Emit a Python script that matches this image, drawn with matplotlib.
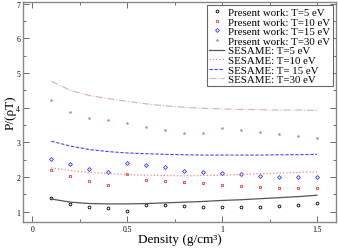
import matplotlib
matplotlib.use("Agg")
import matplotlib.pyplot as plt
from matplotlib.ticker import MultipleLocator

plt.rcParams['font.family'] = ['Liberation Serif', 'DejaVu Serif']

# ── data ──
density = [0.1, 0.2, 0.3, 0.4, 0.5, 0.6, 0.7, 0.8, 0.9, 1.0, 1.1, 1.2, 1.3, 1.4, 1.5]

pw_t5 = [1.40, 1.23, 1.12, 1.09, 1.02, 1.20, 1.18, 1.16, 1.14, 1.13, 1.13, 1.13, 1.16, 1.19, 1.24]
pw_t10 = [2.19, 2.02, 1.88, 1.77, 2.09, 1.92, 1.88, 1.85, 1.83, 1.77, 1.74, 1.72, 1.69, 1.69, 1.69]
pw_t15 = [2.51, 2.36, 2.23, 2.13, 2.39, 2.33, 2.29, 2.17, 2.14, 2.11, 2.07, 2.03, 2.01, 2.00, 1.99]
pw_t30 = [4.21, 3.87, 3.70, 3.65, 3.55, 3.45, 3.36, 3.27, 3.28, 3.40, 3.35, 3.30, 3.24, 3.19, 3.12]

ses_t5 = [1.36, 1.27, 1.23, 1.22, 1.22, 1.23, 1.25, 1.27, 1.29, 1.32, 1.34, 1.37, 1.40, 1.43, 1.47]
ses_t10 = [2.26, 2.18, 2.13, 2.10, 2.07, 2.05, 2.04, 2.03, 2.04, 2.05, 2.07, 2.09, 2.11, 2.13, 2.14]
ses_t15 = [3.03, 2.89, 2.79, 2.73, 2.69, 2.67, 2.65, 2.64, 2.63, 2.63, 2.63, 2.63, 2.64, 2.64, 2.65]
ses_t30 = [4.76, 4.50, 4.35, 4.26, 4.18, 4.11, 4.05, 4.01, 3.98, 3.96, 3.95, 3.94, 3.93, 3.93, 3.92]

# ── figure ──
fig = plt.figure(figsize=(3.38, 2.53), dpi=100)
ax = fig.add_axes([0.068, 0.119, 0.926, 0.869])

ms = 2.0
mew = 0.6
ax.plot(density, pw_t5, 'o', ms=ms, mfc='none', mec='black', mew=mew,
        label='Present work: T=5 eV')
ax.plot(density, pw_t10, 's', ms=ms, mfc='none', mec='#ee3333', mew=mew,
        label='Present work: T=10 eV')
ax.plot(density, pw_t15, 'D', ms=ms, mfc='none', mec='#3333ff', mew=mew,
        label='Present work: T=15 eV')
ax.plot(density, pw_t30, '*', ms=ms, color='#bc8f8f', mew=0.4,
        label='Present work: T=30 eV')

ax.plot(density, ses_t5, '-', color='#555555', lw=0.9, label='SESAME: T=5 eV')
ax.plot(density, ses_t10, ':', color='#ff8080', lw=0.9, label='SESAME: T=10 eV')
ax.plot(density, ses_t15, '--', color='#4444ff', lw=0.8, dashes=(3, 1.5),
        label='SESAME: T= 15 eV')
ax.plot(density, ses_t30, '-.', color='#d4b0b0', lw=0.8, label='SESAME: T=30 eV')

ax.set_xlim(-0.05, 1.6)
ax.set_ylim(0.7, 7.05)
ax.xaxis.set_minor_locator(MultipleLocator(0.25))
ax.yaxis.set_major_locator(MultipleLocator(1))
ax.yaxis.set_minor_locator(MultipleLocator(0.5))
ax.set_xticks([0, 0.5, 1, 1.5])
ax.set_xticklabels(['0', '0.5', '1', '1.5'])
ax.tick_params(which='both', direction='in', top=True, right=True,
               labelsize=5.5, color='#555555', width=0.6, pad=2)
ax.tick_params(which='major', length=4)
ax.tick_params(which='minor', length=2)
for sp in ax.spines.values():
    sp.set_color('#888888')
    sp.set_linewidth(1.0)

ax.set_xlabel('Density (g/cm³)', fontsize=9.5, labelpad=0)
ax.set_ylabel('P/(ρT)', fontsize=9.5, labelpad=0)

leg = ax.legend(loc='upper right', fontsize=7.8, frameon=True, fancybox=False,
                edgecolor='#666666', framealpha=1, borderpad=0.2,
                labelspacing=0.0, handlelength=1.3, handletextpad=0.45,
                borderaxespad=0.3)
leg.get_frame().set_linewidth(0.8)

fig.savefig('out.png', dpi=100)
